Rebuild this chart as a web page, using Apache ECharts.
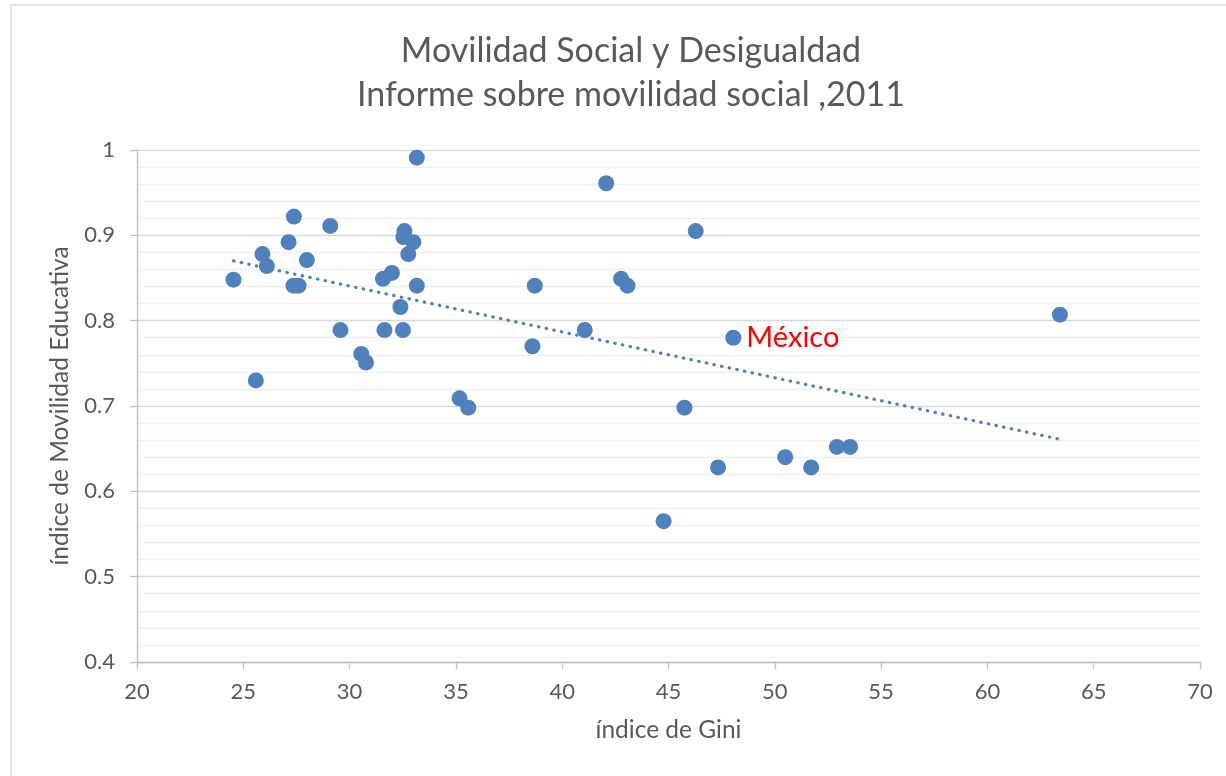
<!DOCTYPE html>
<html>
<head>
<meta charset="utf-8">
<script src="https://cdn.jsdelivr.net/npm/echarts@6/dist/echarts.min.js"></script>
<style>
html,body{margin:0;padding:0;background:#fff;}
#chart{width:1226px;height:776px;}
</style>
</head>
<body>
<div id="chart"></div>
<script>
// Data
const giniX = [24.54, 25.59, 25.90, 26.11, 27.13, 27.38, 27.36, 27.60, 27.99, 29.09,
               29.57, 30.55, 30.77, 31.57, 31.99, 31.64, 32.39, 32.51, 32.58, 32.53,
               33.00, 32.76, 33.16, 33.16, 35.17, 35.58, 38.71, 38.60, 41.06, 42.07,
               42.77, 43.07, 46.28, 45.75, 44.77, 47.33, 50.49, 51.71, 52.92, 53.54,
               63.41];
const movilidadY = [0.848, 0.730, 0.878, 0.864, 0.892, 0.922, 0.841, 0.841, 0.871, 0.911,
                    0.789, 0.761, 0.751, 0.849, 0.856, 0.789, 0.816, 0.789, 0.905, 0.898,
                    0.892, 0.878, 0.841, 0.991, 0.709, 0.698, 0.841, 0.770, 0.789, 0.961,
                    0.849, 0.841, 0.905, 0.698, 0.565, 0.628, 0.640, 0.628, 0.652, 0.652,
                    0.807];
const mexicoX = 48.05;
const mexicoY = 0.780;
const mexicoLabel = 'México';
const trendX = [24.54, 63.41];
const trendY = [0.870, 0.661];
const xTicks = [20, 70, 5];   // min, max, interval
const yTicks = [0.4, 1, 0.1]; // min, max, interval

const titleText = 'Movilidad Social y Desigualdad\nInforme sobre movilidad social ,2011';
const xName = 'índice de Gini';
const yName = 'índice de Movilidad Educativa';

const points = giniX.map((x, i) => [x, movilidadY[i]]);
const trend = trendX.map((x, i) => [x, trendY[i]]);

const FONT = 'Lato';
const TXT = '#595959';
const BLUE = '#4f81bd';

const chart = echarts.init(document.getElementById('chart'), null, {renderer: 'canvas'});
chart.setOption({
  backgroundColor: '#ffffff',
  animation: false,
  graphic: [{
    type: 'rect',
    shape: {x: 11, y: 5, width: 1240, height: 800},
    style: {fill: 'none', stroke: '#d9d9d9', lineWidth: 1.3},
    silent: true
  }],
  title: {
    text: titleText,
    left: 626,
    textAlign: 'center',
    top: 24,
    textStyle: {fontFamily: FONT, fontSize: 34, fontWeight: 'normal', color: TXT, lineHeight: 44}
  },
  grid: {left: 137, right: 26, top: 150, bottom: 114, containLabel: false},
  xAxis: {
    type: 'value',
    min: xTicks[0], max: xTicks[1], interval: xTicks[2],
    name: xName,
    nameLocation: 'middle',
    nameGap: 56,
    nameTextStyle: {fontFamily: FONT, fontSize: 24.5, color: TXT},
    axisLine: {show: true, lineStyle: {color: '#bfbfbf', width: 1.3}},
    axisTick: {show: true, length: 7, lineStyle: {color: '#bfbfbf', width: 1.3}},
    axisLabel: {fontFamily: FONT, fontSize: 22, color: TXT, margin: 19},
    splitLine: {show: false}
  },
  yAxis: {
    type: 'value',
    min: yTicks[0], max: yTicks[1], interval: yTicks[2],
    name: yName,
    nameLocation: 'middle',
    nameGap: 64,
    nameTextStyle: {fontFamily: FONT, fontSize: 24.5, color: TXT},
    axisLine: {show: true, lineStyle: {color: '#bfbfbf', width: 1.3}},
    axisTick: {show: true, length: 7, lineStyle: {color: '#bfbfbf', width: 1.3}},
    axisLabel: {fontFamily: FONT, fontSize: 22, color: TXT, margin: 22,
                formatter: v => String(Math.round(v * 10) / 10)},
    splitLine: {show: true, lineStyle: {color: '#d9d9d9', width: 1.3}},
    minorTick: {show: false, splitNumber: 5},
    minorSplitLine: {show: true, lineStyle: {color: '#f0f0f0', width: 1.3}}
  },
  series: [
    {
      type: 'line',
      data: trend,
      symbol: 'none',
      silent: true,
      z: 3,
      lineStyle: {color: BLUE, width: 3.2, type: [0.5, 7.3], cap: 'round'}
    },
    {
      type: 'scatter',
      data: points,
      symbol: 'circle',
      symbolSize: 16,
      z: 4,
      itemStyle: {color: BLUE, opacity: 1}
    },
    {
      type: 'scatter',
      data: [[mexicoX, mexicoY]],
      symbol: 'circle',
      symbolSize: 16,
      z: 4,
      itemStyle: {color: BLUE, opacity: 1},
      label: {
        show: true,
        position: 'right',
        distance: 5,
        formatter: mexicoLabel,
        fontFamily: FONT,
        fontSize: 29,
        color: '#ff0000'
      }
    }
  ]
});
</script>
</body>
</html>
